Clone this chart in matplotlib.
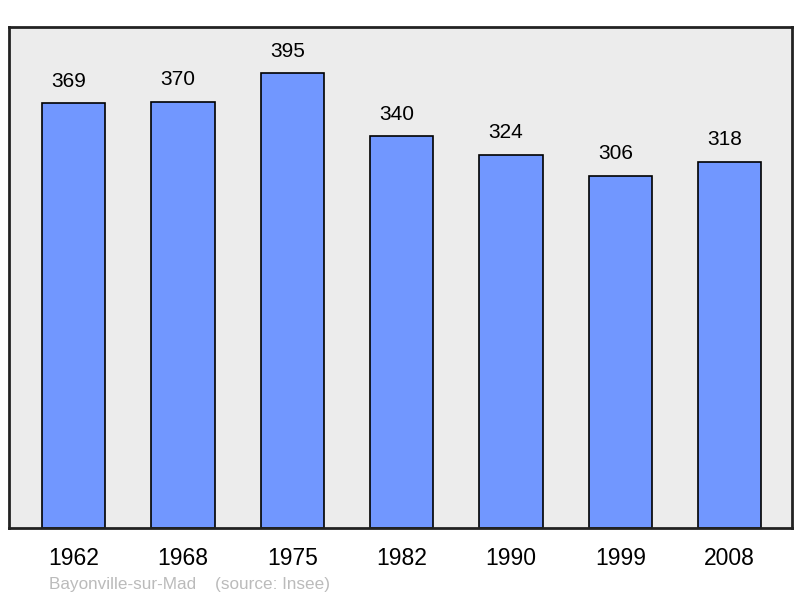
import matplotlib
matplotlib.use("Agg")
import matplotlib.pyplot as plt

years = ["1962", "1968", "1975", "1982", "1990", "1999", "2008"]
population = [369, 370, 395, 340, 324, 306, 318]
town = "Bayonville-sur-Mad"
source = "(source: Insee)"

plt.rcParams["font.family"] = ["Liberation Sans", "DejaVu Sans"]

fig = plt.figure(figsize=(8, 5.98), dpi=100)
ax = fig.add_axes([9 / 800, 70 / 598, 783 / 800, 501 / 598])
ax.set_facecolor("#ececec")

x = list(range(len(years)))
ax.bar(x, population, width=0.58, color="#7197ff", edgecolor="black",
       linewidth=1.2, zorder=2)

# value labels sit a bit left of the bar centre in the original
for xi, v in zip(x, population):
    ax.annotate(str(v), (xi, v), xytext=(-3.6, 9), textcoords="offset points",
                ha="center", va="bottom", fontsize=15)

ax.set_xlim(-0.59, 6.57)
ax.set_ylim(0, 435)
ax.set_xticks(x)
ax.set_xticklabels(years, fontsize=16.5)
ax.tick_params(axis="x", length=0, pad=14)
ax.set_yticks([])
for s in ax.spines.values():
    s.set_linewidth(2)
    s.set_color("#222222")

fig.text(49 / 800, 1 - 584 / 598, town + "    " + source, fontsize=12.3,
         color="#bbbbbb", ha="left", va="center")

fig.savefig("out.png", dpi=100)
